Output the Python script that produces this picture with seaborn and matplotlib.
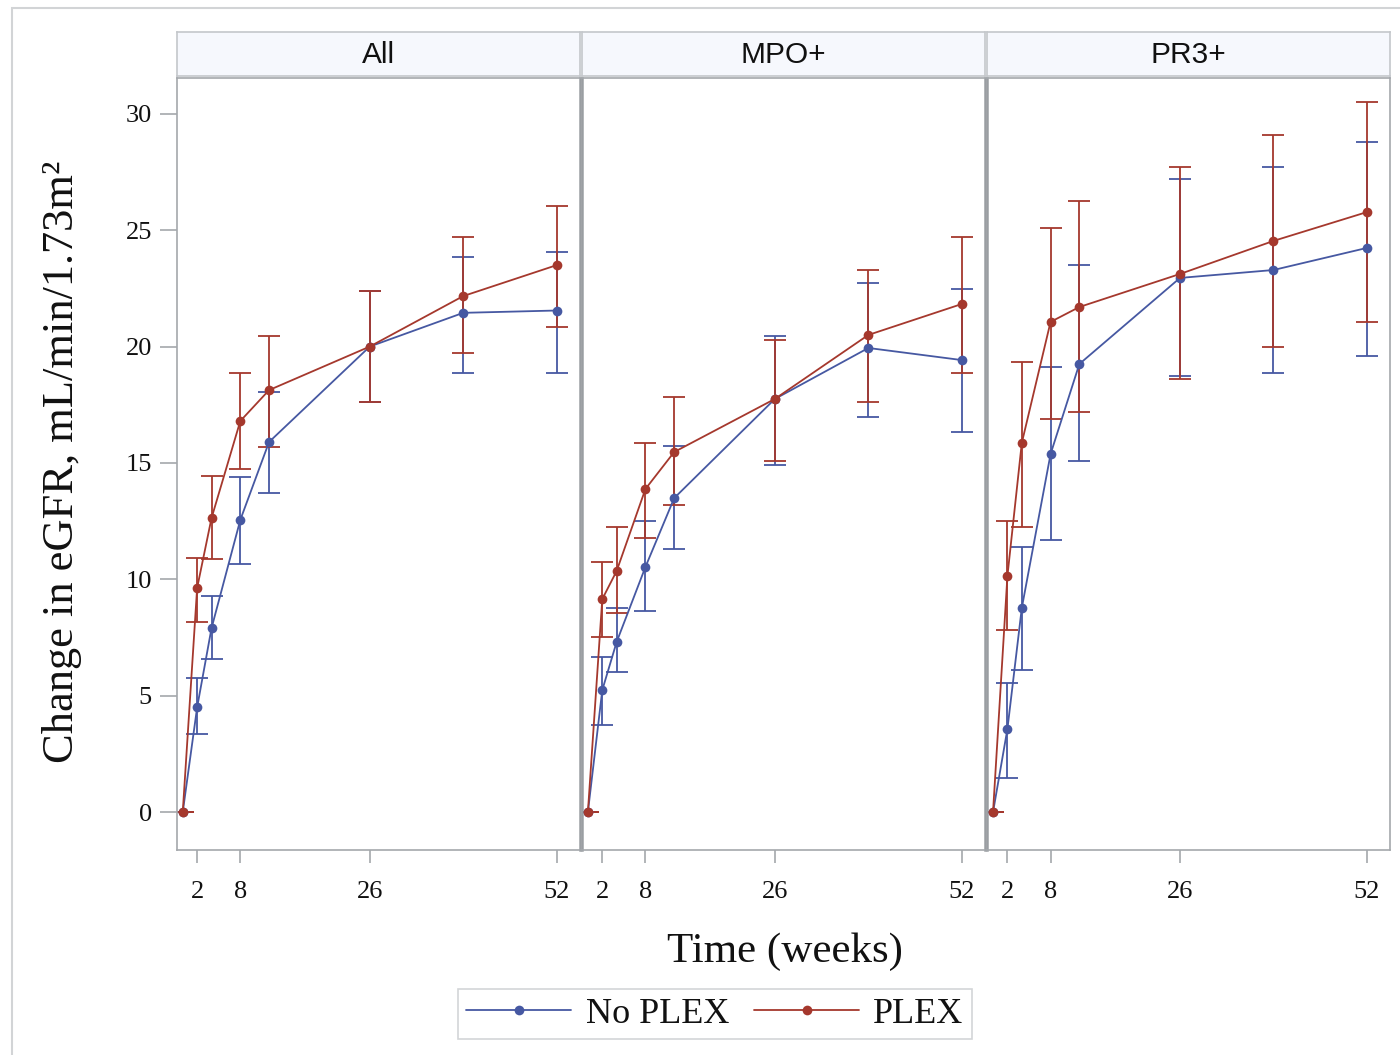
import numpy as np
import pandas as pd
import seaborn as sns
import matplotlib
matplotlib.use("Agg")
import matplotlib.pyplot as plt
from matplotlib.patches import Rectangle
from matplotlib.lines import Line2D
from matplotlib import font_manager

# ---------------- data ----------------
weeks = [0, 2, 4, 8, 12, 26, 39, 52]
panels = ["All", "MPO+", "PR3+"]
groups = ["No PLEX", "PLEX"]

all_noplex = [0, 4.5, 7.9, 12.55, 15.9, 20.0, 21.45, 21.55]
all_noplex_lo = [0, 3.35, 6.57, 10.66, 13.7, 17.6, 18.87, 18.87]
all_noplex_hi = [0, 5.76, 9.28, 14.4, 18.05, 22.4, 23.85, 24.07]
all_plex = [0, 9.63, 12.63, 16.8, 18.13, 20.0, 22.17, 23.5]
all_plex_lo = [0, 8.17, 10.87, 14.74, 15.7, 17.6, 19.72, 20.84]
all_plex_hi = [0, 10.9, 14.44, 18.87, 20.45, 22.4, 24.7, 26.04]

mpo_noplex = [0, 5.24, 7.31, 10.53, 13.49, 17.75, 19.94, 19.42]
mpo_noplex_lo = [0, 3.74, 6.02, 8.64, 11.3, 14.9, 16.97, 16.33]
mpo_noplex_hi = [0, 6.66, 8.77, 12.5, 15.73, 20.45, 22.73, 22.47]
mpo_plex = [0, 9.15, 10.36, 13.88, 15.47, 17.75, 20.5, 21.83]
mpo_plex_lo = [0, 7.52, 8.55, 11.77, 13.19, 15.08, 17.62, 18.87]
mpo_plex_hi = [0, 10.74, 12.25, 15.86, 17.83, 20.28, 23.29, 24.7]

pr3_noplex = [0, 3.57, 8.77, 15.38, 19.25, 22.95, 23.29, 24.24]
pr3_noplex_lo = [0, 1.46, 6.1, 11.69, 15.08, 18.74, 18.87, 19.6]
pr3_noplex_hi = [0, 5.54, 11.39, 19.13, 23.5, 27.2, 27.72, 28.79]
pr3_plex = [0, 10.14, 15.86, 21.06, 21.7, 23.12, 24.54, 25.78]
pr3_plex_lo = [0, 7.82, 12.25, 16.89, 17.19, 18.6, 19.98, 21.06]
pr3_plex_hi = [0, 12.5, 19.34, 25.1, 26.26, 27.72, 29.09, 30.5]

xticks = [2, 8, 26, 52]
yticks = [0, 5, 10, 15, 20, 25, 30]

series = {
    ("All", "No PLEX"): (all_noplex, all_noplex_lo, all_noplex_hi),
    ("All", "PLEX"): (all_plex, all_plex_lo, all_plex_hi),
    ("MPO+", "No PLEX"): (mpo_noplex, mpo_noplex_lo, mpo_noplex_hi),
    ("MPO+", "PLEX"): (mpo_plex, mpo_plex_lo, mpo_plex_hi),
    ("PR3+", "No PLEX"): (pr3_noplex, pr3_noplex_lo, pr3_noplex_hi),
    ("PR3+", "PLEX"): (pr3_plex, pr3_plex_lo, pr3_plex_hi),
}

rows = []
for (p, g), (m, lo, hi) in series.items():
    for w, mv, l, h in zip(weeks, m, lo, hi):
        rows.append(dict(panel=p, group=g, week=w, mean=mv, lo=l, hi=h))
df = pd.DataFrame(rows)

# ---------------- style ----------------
sns.set_theme(style="white")
plt.rcParams["font.family"] = ["Liberation Serif", "DejaVu Serif"]

installed = {f.name for f in font_manager.fontManager.ttflist}
if "Liberation Sans Narrow" in installed:
    strip_family = ["Liberation Sans Narrow", "Liberation Sans"]
    strip_size = 23
else:
    strip_family = ["Liberation Sans", "DejaVu Sans"]
    strip_size = 21.5

palette = {"No PLEX": "#4658a2", "PLEX": "#a5382d"}
frame_col = "#a4a8ac"

g = sns.FacetGrid(df, col="panel", col_order=panels, hue="group",
                  hue_order=groups, palette=palette, sharey=True,
                  height=7.7, aspect=0.52, despine=False)


def draw(data, color, label, **kw):
    ax = plt.gca()
    d = data.sort_values("week")
    ax.errorbar(d["week"], d["mean"],
                yerr=[d["mean"] - d["lo"], d["hi"] - d["mean"]],
                fmt="none", ecolor=color, elinewidth=1.3, capsize=8,
                capthick=1.3, zorder=2)
    sns.lineplot(data=d, x="week", y="mean", color=color, marker="o",
                 markersize=7, markeredgewidth=0, linewidth=1.3,
                 ax=ax, zorder=3, legend=False)


g.map_dataframe(draw)

fig = g.figure
fig.set_size_inches(14, 10.55)
fig.set_dpi(100)
left, right = 177 / 1400, 1390 / 1400
bottom, top = 1 - 850 / 1055, 1 - 78 / 1055
fig.subplots_adjust(left=left, right=right, bottom=bottom, top=top, wspace=0.006)

for i, ax in enumerate(g.axes.flat):
    ax.set_title("")
    ax.set_xlim(-0.8, 55.2)
    ax.set_ylim(-1.63, 31.54)
    ax.set_xticks(xticks)
    ax.set_xticklabels([str(t) for t in xticks])
    ax.set_xlabel("")
    ax.set_ylabel("")
    ax.set_yticks(yticks)
    ax.tick_params(axis="x", direction="out", length=9, width=1.2,
                   color=frame_col, labelsize=19, pad=13, bottom=True,
                   labelcolor="#111111")
    if i == 0:
        ax.tick_params(axis="y", direction="out", length=12, width=1.2,
                       color=frame_col, labelsize=19, pad=6, left=True,
                       labelcolor="#111111")
    else:
        ax.tick_params(axis="y", left=False, labelleft=False)
    for side, sp in ax.spines.items():
        sp.set_color(frame_col)
        sp.set_linewidth(1.2)
    if i > 0:
        ax.spines["left"].set_color("#9a9ea2")
        ax.spines["left"].set_linewidth(1.8)
    if i < 2:
        ax.spines["right"].set_color("#9a9ea2")
        ax.spines["right"].set_linewidth(1.8)
    # strip header
    pos = ax.get_position()
    sax = fig.add_axes([pos.x0, 1 - 76 / 1055, pos.width, 44 / 1055])
    sax.set_facecolor("#f6f8fd")
    sax.set_xticks([])
    sax.set_yticks([])
    for sp in sax.spines.values():
        sp.set_color("#c4c7cb")
        sp.set_linewidth(1.2)
    sax.text(0.5, 0.47, panels[i], ha="center", va="center",
             fontsize=strip_size, family=strip_family, color="#111111",
             transform=sax.transAxes)

fig.text(62 / 1400, 1 - 462 / 1055, "Change in eGFR, mL/min/1.73m\u00b2",
         rotation=90, ha="center", va="center", fontsize=32, color="#111111")
fig.text(785 / 1400, 1 - 952 / 1055, "Time (weeks)", ha="center",
         va="center", fontsize=31, color="#111111")

handles = [Line2D([0], [0], color=palette[k], marker="o", markersize=7,
                  markeredgewidth=0, linewidth=1.3) for k in groups]
leg = fig.legend(handles, groups, loc="center", ncol=2,
                 bbox_to_anchor=(715 / 1400, 1 - 1014 / 1055), frameon=True,
                 fontsize=26, handlelength=2.9, columnspacing=0.7,
                 handletextpad=0.4, borderpad=0.22, fancybox=False,
                 labelcolor="#111111")
leg.get_frame().set_edgecolor("#c8cbce")
leg.get_frame().set_linewidth(1.2)

# outer border
fig.patches.append(Rectangle((12 / 1400, -0.01), 1.0, 1 - 8 / 1055 + 0.01,
                             transform=fig.transFigure, fill=False,
                             edgecolor="#d2d4d6", linewidth=1.5, zorder=0))

fig.savefig("out.png", dpi=100)
